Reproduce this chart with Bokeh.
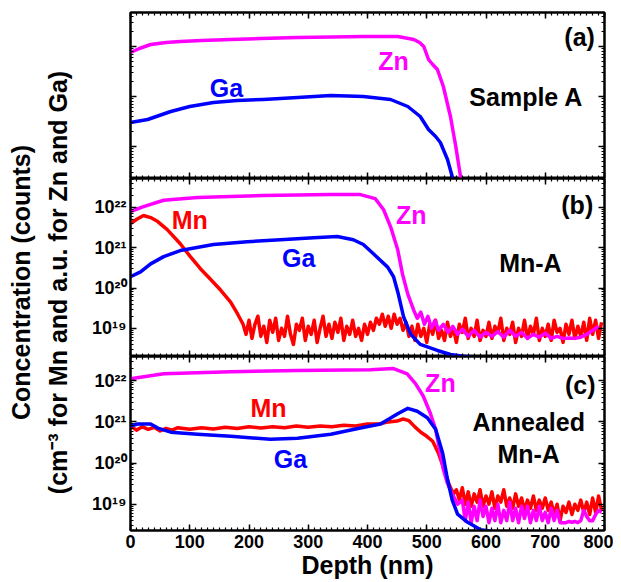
import numpy as np
from bokeh.plotting import figure
from bokeh.models import (Range1d, LogAxis, LinearAxis, SingleIntervalTicker,
                          LogTicker, CustomJSTickFormatter)
from bokeh.layouts import row, column
from bokeh.embed import file_html
from bokeh.resources import INLINE
from bokeh.core.properties import value

FONT = "Liberation Sans"
MAGENTA = "#FF00FF"
BLUE = "#0000FF"
RED = "#FF0000"

# ---------------- data (log10 of concentration / counts) ----------------
# Panel (a): Sample A (arbitrary units)
zn_a_depth = [0, 15, 34, 60, 84, 120, 169, 220, 282, 340, 393, 430, 451, 465, 478,
              488, 495, 503, 510, 518, 528, 540, 549, 557, 562]
zn_a_log = [2.88, 2.96, 3.04, 3.08, 3.10, 3.12, 3.14, 3.16, 3.18, 3.19, 3.20, 3.20,
            3.20, 3.17, 3.14, 3.08, 3.00, 2.74, 2.64, 2.54, 2.20, 1.60, 1.00, 0.40, 0.0]
ga_a_depth = [0, 29, 68, 100, 140, 180, 224, 282, 338, 393, 439, 468, 489, 503, 515,
              523, 535, 543, 550]
ga_a_log = [1.48, 1.54, 1.70, 1.80, 1.88, 1.92, 1.94, 1.98, 2.02, 2.00, 1.94, 1.80,
            1.60, 1.34, 1.20, 1.08, 0.74, 0.40, 0.0]

# Panel (b): Mn-A
zn_b_depth = [0, 22, 56, 113, 224, 338, 388, 413, 427, 439,
              451, 459, 468, 478, 484, 490, 496, 502, 508, 514,
              520, 528, 536, 544, 552, 560, 570, 580, 590, 600,
              610, 620, 630, 640, 650, 660, 670, 680, 690, 700,
              710, 720, 730, 740, 750, 760, 770, 780, 790]
zn_b_log = [21.9, 22.02, 22.18, 22.25, 22.30, 22.32, 22.32, 22.22, 21.95, 21.52,
            20.95, 20.35, 19.85, 19.45, 19.25, 19.4, 19.1, 19.3, 19.0, 19.2,
            18.95, 19.1, 18.9, 19.05, 18.85, 18.98, 18.8, 18.95, 18.78, 18.9,
            18.8, 18.92, 18.78, 18.95, 18.8, 18.9, 18.75, 18.85, 18.78, 18.88,
            18.75, 18.8, 18.75, 18.76, 18.75, 18.78, 18.85, 18.95, 19.05]
ga_b_depth = [0, 17, 34, 56, 84, 140, 197, 253, 309, 349, 376, 393, 410, 434, 444,
              452, 461, 473, 489, 518, 540, 574, 620, 700, 800]
ga_b_log = [20.28, 20.4, 20.6, 20.78, 20.93, 21.08, 21.15, 21.2, 21.25, 21.28, 21.2,
            21.08, 20.85, 20.52, 20.28, 19.85, 19.28, 18.85, 18.6, 18.45, 18.35,
            18.28, 18.1, 17.8, 17.5]
mn_b_depth = [0, 12, 22, 34, 46, 62, 84, 101, 118, 135, 152, 169, 181, 190] + list(range(195, 800, 5))
mn_b_log = [21.6, 21.72, 21.8, 21.75, 21.65, 21.45, 21.1, 20.78, 20.48, 20.22, 19.95,
            19.65, 19.35, 19.1,
            18.85, 19.2, 18.75, 19.1, 19.3, 18.8, 19.05, 18.65, 19.2, 18.9,
            19.25, 18.7, 19.0, 18.8, 19.3, 18.85, 18.6, 19.1, 18.95, 19.25,
            18.7, 19.05, 18.85, 19.2, 18.65, 19.0, 19.3, 18.8, 19.1, 18.75,
            19.15, 18.9, 19.25, 18.7, 19.05, 18.85, 19.2, 18.8, 19.0, 18.7,
            19.1, 18.85, 19.15, 18.95, 19.25, 19.1, 19.35, 19.05, 19.3, 19.0,
            19.35, 19.1, 19.25, 18.95, 19.15, 18.8, 19.05, 18.7, 19.1, 18.8,
            19.0, 18.65, 19.1, 18.85, 19.2, 18.75, 18.95, 18.7, 19.15, 18.8,
            19.0, 18.65, 19.1, 18.9, 19.25, 18.75, 19.0, 18.8, 19.2, 18.7,
            18.95, 18.8, 19.15, 18.75, 19.05, 18.9, 19.25, 18.7, 19.0, 18.85,
            19.15, 18.65, 19.0, 18.8, 19.2, 18.75, 19.05, 18.85, 19.25, 18.7,
            19.0, 18.8, 19.1, 18.7, 19.2, 18.9, 19.0, 18.65, 19.1, 18.85,
            19.2, 18.75, 19.05, 18.8, 19.15, 18.7, 19.25, 18.85, 19.2, 18.75,
            19.15]

# Panel (c): Annealed Mn-A
zn_c_depth = [0, 56, 169, 282, 405, 443, 467, 481, 494, 506, 515, 523, 528, 535, 543,
              552] + list(range(560, 800, 5))
zn_c_log = [22.05, 22.17, 22.22, 22.25, 22.27, 22.3, 22.17, 21.93, 21.63, 21.21, 20.82,
            20.23, 19.84, 19.5, 19.25, 19.0,
            19.1, 18.6, 19.05, 18.55, 18.95, 18.6, 19.1, 18.7, 18.95, 18.55,
            18.9, 18.6, 19.0, 18.55, 18.85, 18.6, 19.05, 18.6, 18.9, 18.55,
            18.95, 18.65, 18.95, 18.55, 18.85, 18.6, 18.95, 18.6, 18.8, 18.55,
            18.9, 18.6, 18.85, 18.55, 18.55, 18.55, 18.58, 18.56, 18.58, 18.55,
            18.6, 18.85, 18.7, 18.6, 18.6, 18.75, 18.85, 18.8]
ga_c_depth = [0, 12, 34, 46, 68, 113, 169, 236, 282, 338, 388, 422, 451, 468, 484, 501,
              515, 527, 535, 543, 552, 569, 591, 620, 653, 700, 800]
ga_c_log = [20.9, 20.95, 20.95, 20.85, 20.75, 20.7, 20.65, 20.58, 20.6, 20.7, 20.85,
            20.95, 21.2, 21.33, 21.26, 21.1, 20.82, 20.23, 19.6, 19.1, 18.76, 18.56,
            18.38, 18.32, 18.3, 18.1, 17.8]
mn_c_depth = [0, 10, 20, 30, 40, 50, 60, 70, 80, 100, 120, 140, 160, 180, 200, 220, 240,
              260, 280, 300, 320, 340, 360, 380, 400, 420, 435, 450, 460, 470, 480, 490,
              500, 510, 520, 528, 537, 545] + list(range(550, 800, 5))
mn_c_log = [20.9, 20.8, 20.88, 20.82, 20.87, 20.78, 20.84, 20.8, 20.86, 20.82,
            20.86, 20.83, 20.87, 20.84, 20.88, 20.85, 20.88, 20.86, 20.9, 20.87,
            20.9, 20.88, 20.92, 20.9, 20.95, 20.95, 21.0, 21.02, 21.07, 21.03,
            20.88, 20.75, 20.65, 20.53, 20.23, 19.9, 19.5, 19.25,
            19.35, 19.1, 19.4, 19.0, 19.3, 18.95, 19.25, 19.05, 19.35, 18.95,
            19.2, 19.0, 19.3, 18.9, 19.2, 19.05, 19.35, 18.95, 19.15, 18.9,
            19.25, 18.95, 19.15, 18.85, 19.1, 18.9, 19.2, 18.85, 19.1, 18.9,
            19.15, 18.85, 19.05, 18.75, 19.0, 18.6, 18.95, 18.8, 19.05, 18.75,
            19.0, 18.85, 19.1, 18.8, 19.05, 18.75, 19.15, 18.8, 19.2, 18.85]

x_ticks_interval = 100

def to_lin(logs):
    return [10.0 ** v for v in logs]

EMPTY = CustomJSTickFormatter(code="return '';")
SUPER = CustomJSTickFormatter(code="""
const s = {'0':'\u2070','1':'\u00b9','2':'\u00b2','3':'\u00b3','4':'\u2074','5':'\u2075',
           '6':'\u2076','7':'\u2077','8':'\u2078','9':'\u2079','-':'\u207b'};
const e = Math.round(Math.log10(tick));
return '10' + String(e).split('').map(c => s[c]).join('');
""")

def style_axis(ax, labels):
    ax.axis_line_width = 2
    ax.axis_line_color = "black"
    ax.major_tick_in = 6
    ax.major_tick_out = 0
    ax.minor_tick_in = 3
    ax.minor_tick_out = 0
    ax.major_tick_line_width = 1.5
    ax.minor_tick_line_width = 1.2
    ax.major_tick_line_color = "black"
    ax.minor_tick_line_color = "black"
    if labels:
        ax.major_label_text_font = FONT
        ax.major_label_text_font_style = "bold"
        ax.major_label_text_font_size = "18px"
        ax.major_label_text_color = "black"
        ax.major_label_standoff = 4
    else:
        ax.formatter = EMPTY
        ax.major_label_text_font_size = "0px"
        ax.major_label_standoff = 0


def make_panel(height, ylo, yhi, top, bottom, xlabels, ylabels, xtitle=None):
    p = figure(width=528, height=height, x_range=Range1d(0, 800),
               y_range=Range1d(10 ** ylo, 10 ** yhi), y_axis_type="log",
               output_backend="svg", toolbar_location=None,
               min_border_left=45, min_border_right=9,
               min_border_top=top, min_border_bottom=bottom)
    p.grid.visible = False
    p.outline_line_color = "black"
    p.outline_line_width = 2
    p.background_fill_color = "white"
    p.border_fill_color = "white"
    bottom_ax = p.below[0]
    left_ax = p.left[0]
    bottom_ax.ticker = SingleIntervalTicker(interval=x_ticks_interval, num_minor_ticks=10)
    left_ax.ticker = LogTicker(num_minor_ticks=10)
    style_axis(bottom_ax, xlabels)
    style_axis(left_ax, ylabels)
    if ylabels:
        left_ax.formatter = SUPER
    if xtitle:
        bottom_ax.axis_label = xtitle
        bottom_ax.axis_label_text_font = FONT
        bottom_ax.axis_label_text_font_style = "bold"
        bottom_ax.axis_label_text_font_size = "25px"
        bottom_ax.axis_label_text_color = "black"
        bottom_ax.axis_label_standoff = 0
    top_ax = LinearAxis(ticker=SingleIntervalTicker(interval=x_ticks_interval, num_minor_ticks=10))
    style_axis(top_ax, False)
    p.add_layout(top_ax, "above")
    right_ax = LogAxis(ticker=LogTicker(num_minor_ticks=10))
    style_axis(right_ax, False)
    p.add_layout(right_ax, "right")
    return p


def add_line(p, d, logs, color):
    p.line(d, to_lin(logs), line_color=color, line_width=3.5, line_join="round")


def add_text(p, d, lv, txt, color="black"):
    p.text(x=[d], y=[10 ** lv], text=[txt], text_color=color, text_font=value(FONT),
           text_font_style="bold", text_font_size="25px", text_align="center",
           text_baseline="middle")

# Panel (a)
pa = make_panel(178, 0.36, 3.68, 12, 0, False, False)
add_line(pa, ga_a_depth, ga_a_log, BLUE)
add_line(pa, zn_a_depth, zn_a_log, MAGENTA)
add_text(pa, 444, 2.72, "Zn", MAGENTA)
add_text(pa, 162, 2.18, "Ga", BLUE)
add_text(pa, 668, 2.0, "Sample A")
add_text(pa, 758, 3.2, "(a)")

# Panel (b)
pb = make_panel(178, 18.3, 22.72, 0, 0, False, True)
add_line(pb, mn_b_depth, mn_b_log, RED)
add_line(pb, zn_b_depth, zn_b_log, MAGENTA)
add_line(pb, ga_b_depth, ga_b_log, BLUE)
add_text(pb, 100, 21.68, "Mn", RED)
add_text(pb, 284, 20.75, "Ga", BLUE)
add_text(pb, 474, 21.82, "Zn", MAGENTA)
add_text(pb, 675, 20.62, "Mn-A")
add_text(pb, 754, 22.05, "(b)")

# Panel (c)
pc = make_panel(226, 18.36, 22.59, 0, 52, True, True, xtitle="Depth (nm)")
add_line(pc, mn_c_depth, mn_c_log, RED)
add_line(pc, zn_c_depth, zn_c_log, MAGENTA)
add_line(pc, ga_c_depth, ga_c_log, BLUE)
add_text(pc, 233, 21.34, "Mn", RED)
add_text(pc, 270, 20.11, "Ga", BLUE)
add_text(pc, 523, 21.95, "Zn", MAGENTA)
add_text(pc, 672, 20.99, "Annealed")
add_text(pc, 672, 20.21, "Mn-A")
add_text(pc, 759, 21.9, "(c)")

# Shared y-axis title
lab = figure(width=85, height=582, x_range=Range1d(0, 85), y_range=Range1d(0, 582),
             output_backend="svg", toolbar_location=None, min_border=0,
             x_axis_location=None, y_axis_location=None)
lab.grid.visible = False
lab.outline_line_color = None
lab.text(x=[20], y=[300], text=["Concentration (counts)"], angle=np.pi / 2,
         text_align="center", text_baseline="middle", text_font=value(FONT),
         text_font_style="bold", text_font_size="25px", text_color="black")
lab.text(x=[57], y=[300], text=["(cm\u207b\u00b3 for Mn and a.u. for Zn and Ga)"], angle=np.pi / 2,
         text_align="center", text_baseline="middle", text_font=value(FONT),
         text_font_style="bold", text_font_size="25px", text_color="black")

layout = row(lab, column(pa, pb, pc))
with open("out.html", "w", encoding="utf-8") as f:
    f.write(file_html(layout, INLINE))
